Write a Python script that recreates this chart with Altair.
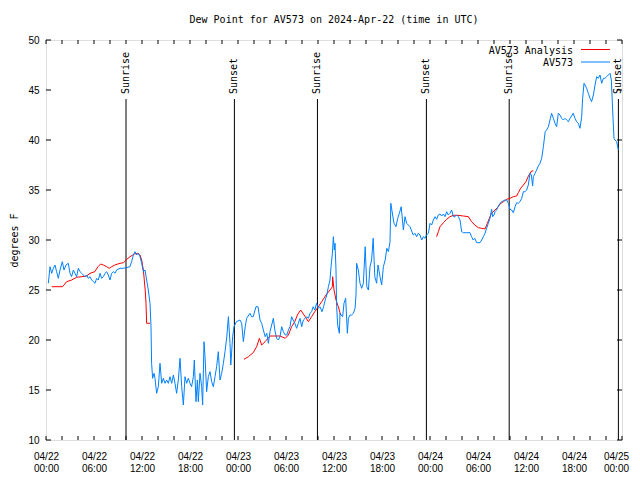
import altair as alt
import pandas as pd

TITLE = "Dew Point for AV573 on 2024-Apr-22 (time in UTC)"
Y_TITLE = "degrees F"
FONT = "DejaVu Sans Mono"
RED = "#ff0000"
BLUE = "#0080ff"

# x values are hours since 2024-04-22 00:00 UTC
x_tick_dates = ["04/22", "04/22", "04/22", "04/22", "04/23", "04/23", "04/23",
                "04/23", "04/24", "04/24", "04/24", "04/24", "04/25"]
x_tick_times = ["00:00", "06:00", "12:00", "18:00", "00:00", "06:00", "12:00",
                "18:00", "00:00", "06:00", "12:00", "18:00", "00:00"]
x_major = [0, 6, 12, 18, 24, 30, 36, 42, 48, 54, 60, 66, 72]
x_minor = [0, 2, 4, 6, 8, 10, 12, 14, 16, 18, 20, 22, 24, 26, 28, 30, 32, 34, 36,
           38, 40, 42, 44, 46, 48, 50, 52, 54, 56, 58, 60, 62, 64, 66, 68, 70, 72]
y_ticks = [10, 15, 20, 25, 30, 35, 40, 45, 50]

sun_hours = [10.0, 23.55, 33.93, 47.55, 57.9, 71.55]
sun_labels = ["Sunrise", "Sunset", "Sunrise", "Sunset", "Sunrise", "Sunset"]

legend_names = ["AV573 Analysis", "AV573"]
legend_colors = [RED, BLUE]

blue_h = [0.29, 0.5, 0.71, 0.92, 1.125, 1.33, 1.54, 1.75, 2.04, 2.25, 2.5, 2.79, 3.0, 3.2,
          3.42, 3.625, 3.83, 4.04, 4.25, 4.46, 4.67, 4.875, 5.08, 5.29, 5.5, 5.71, 5.92,
          6.125, 6.33, 6.54, 6.75, 6.96, 7.17, 7.375, 7.58, 7.79, 8.0, 8.2, 8.42, 8.625,
          8.83, 9.25, 9.67, 10.0, 10.5, 10.7, 10.92, 11.125, 11.33, 11.54, 11.75, 11.96,
          12.17, 12.375, 12.58, 12.79, 13.0, 13.125, 13.2, 13.33, 13.5, 13.625, 13.83,
          14.04, 14.25, 14.46, 14.67, 14.875, 15.08, 15.29, 15.5, 15.71, 15.92, 16.125,
          16.33, 16.54, 16.75, 16.96, 17.17, 17.375, 17.58, 17.79, 18.0, 18.2, 18.42,
          18.54, 18.75, 18.92, 19.04, 19.25, 19.46, 19.58, 19.75, 19.875, 20.08, 20.29,
          20.5, 20.71, 20.92, 21.125, 21.33, 21.54, 21.75, 21.96, 22.17, 22.375,
          22.6, 22.8, 23.0, 23.1, 23.33, 23.5, 23.8, 24.25, 24.46, 24.67, 24.9, 25.08,
          25.5, 25.7, 25.9, 26.25, 26.5, 26.75, 26.96, 27.17, 27.4, 27.6, 27.8, 28.0,
          28.42, 28.6, 28.83, 29.04, 29.25, 29.46, 29.67, 29.9, 30.1, 30.3, 30.5, 30.7,
          30.9, 31.1, 31.33, 31.54, 31.75, 31.96, 32.17, 32.4, 32.6, 32.8, 33.0, 33.2,
          33.4, 33.6, 33.83, 34.04, 34.25, 34.5, 34.7, 34.9, 35.1, 35.3, 35.5, 35.63,
          35.8, 35.92, 36.04, 36.125, 36.25, 36.33, 36.46, 36.67, 36.75, 36.9, 37.08,
          37.25, 37.46, 37.67, 37.8, 38.0, 38.2, 38.42, 38.63, 38.75, 38.83, 39.04,
          39.25, 39.46, 39.67, 39.9, 40.1, 40.3, 40.5, 40.7, 40.9, 41.1, 41.33, 41.5,
          41.75, 41.96, 42.17, 42.4, 42.6, 42.8, 43.0, 43.1, 43.33, 43.5, 43.75, 43.96,
          44.17, 44.4,
          44.67, 44.875, 45.08, 45.29, 45.5, 45.9, 46.125, 46.33, 46.54, 46.75, 46.96,
          47.17, 47.38, 47.54, 47.8, 48.0, 48.2, 48.42, 48.63, 48.83, 49.04, 49.25,
          49.46, 49.67, 49.875, 50.08, 50.29, 50.5, 50.7, 50.92, 51.125, 51.33, 51.54,
          51.75, 51.96, 52.17, 52.6, 53.0, 53.2, 53.4, 53.6, 53.83, 54.25, 54.46, 54.67,
          54.875, 55.08, 55.29, 55.5, 55.7, 55.83, 56.0, 56.125, 56.33, 56.54, 56.75,
          56.96, 57.17, 57.38, 57.58, 57.79, 58.0, 58.2, 58.42, 58.63, 58.83, 59.04,
          59.25, 59.46, 59.67, 59.875, 60.08, 60.29, 60.5, 60.67, 60.83, 60.92, 61.13,
          61.33, 61.54, 61.75, 61.96, 62.17, 62.4, 62.58, 62.8, 63.0, 63.2, 63.42, 63.63,
          63.83, 64.04, 64.25, 64.46, 64.67, 64.875, 65.08, 65.3, 65.5, 65.7, 65.9,
          66.125, 66.33, 66.54, 66.75, 66.96, 67.08, 67.25, 67.375, 67.58, 67.79, 68.0,
          68.2, 68.42, 68.63, 68.83, 69.04, 69.25, 69.46, 69.67, 69.875, 70.08, 70.29,
          70.5, 70.67, 70.83, 71.0, 71.125, 71.33, 71.54]
blue_v = [25.67, 27.33, 26.67, 27.17, 27.5, 26.83, 26.17, 27.0, 27.83, 27.0, 27.5, 27.67,
          26.67, 26.33, 27.0, 26.67, 26.33, 27.17, 26.83, 26.67, 26.5, 26.33, 26.5, 26.17,
          26.33, 26.0, 25.83, 25.67, 26.17, 26.0, 26.67, 26.17, 26.33, 26.67, 26.83, 26.5,
          26.0, 26.67, 26.83, 26.67, 27.0, 27.17, 27.17, 27.23, 27.33, 27.83, 28.5, 28.83,
          28.5, 28.67, 28.33, 27.67, 26.83, 27.0, 26.0, 25.0, 23.67, 21.33, 17.67, 16.17,
          16.67, 16.17, 14.67, 15.33, 17.67, 15.67, 16.17, 15.67, 16.0, 15.67, 16.33,
          15.67, 16.5, 15.67, 14.67, 16.0, 18.17, 15.33, 13.5, 16.33, 15.67, 16.17, 15.67,
          15.33, 16.33, 18.0, 13.83, 16.0, 13.83, 16.67, 15.33, 13.5, 19.83, 18.33, 14.83,
          16.33, 16.83, 15.83, 15.33, 16.33, 17.33, 18.83, 16.0, 16.67, 17.67, 18.83,
          20.33, 22.33, 19.67, 17.5, 20.33, 21.33, 21.83, 22.0, 21.67, 19.83, 21.33, 22.17,
          22.67, 22.33, 22.33, 23.33, 23.33, 22.0, 21.67, 21.0, 20.33, 20.67, 19.67, 20.83,
          22.17, 21.0, 20.17, 20.0, 20.33, 21.33, 20.83, 20.5, 20.5, 21.0, 21.33, 22.33,
          22.0, 21.67, 21.17, 21.67, 22.17, 21.33, 22.0, 22.17, 22.33, 22.17, 22.67, 22.83,
          23.33, 23.0, 23.67, 23.17, 23.33, 22.83, 23.33, 24.0, 24.5, 25.33, 26.0, 27.33,
          28.67, 30.33, 29.0, 29.67, 27.0, 23.33, 21.5, 20.67, 22.67, 22.5, 22.33, 23.67,
          24.17, 20.67, 22.17, 22.5, 22.5, 22.67, 23.17, 24.5, 27.67, 27.0, 25.67, 25.17,
          25.67, 29.33, 25.33, 25.0, 27.33, 28.0, 30.17, 26.33, 25.67, 27.5, 26.33, 25.5,
          27.33, 28.0, 29.17, 28.83, 29.83, 33.67, 32.5, 31.67, 31.33, 32.17, 32.67, 33.33,
          31.0, 32.33, 31.67, 31.5, 31.33, 30.5, 30.67, 30.33, 30.67, 30.5, 30.0, 30.33,
          30.17, 30.5, 30.67, 31.67, 31.5, 32.0, 32.33, 32.07, 32.5, 32.6, 32.4, 32.6,
          32.33, 32.83, 32.5, 32.67, 33.0, 32.33, 32.33, 32.5, 32.33, 32.0, 30.83, 30.73,
          30.73, 30.73, 30.33, 30.0, 30.17, 29.73, 29.73, 30.0, 30.33, 30.67, 31.17, 31.67,
          32.17, 33.07, 32.33, 32.5, 32.83, 33.0, 33.4, 33.67, 33.83, 33.93, 34.0, 34.0,
          33.67, 33.07, 33.0, 32.73, 33.33, 33.73, 33.67, 33.83, 34.17, 34.83, 34.83, 35.0,
          35.5, 36.67, 36.5, 35.4, 36.33, 36.67, 37.0, 37.4, 37.67, 38.17, 39.33, 40.83,
          41.0, 41.33, 42.0, 42.67, 42.17, 41.67, 41.33, 42.67, 42.5, 42.17, 42.0, 42.17,
          42.0, 41.83, 42.17, 42.4, 42.67, 42.17, 41.83, 41.67, 41.17, 42.33, 44.17, 45.67,
          45.5, 45.17, 44.67, 44.17, 43.83, 44.5, 45.5, 46.33, 46.17, 46.5, 45.67, 46.17,
          46.17, 46.33, 46.5, 46.67, 46.0, 43.0, 40.17, 40.0, 39.83, 39.0]

red_seg1_h = [0.71, 2.08, 2.58, 3.2, 3.83, 4.46, 5.08, 5.5, 6.1, 6.5, 6.83, 7.17, 7.58, 7.9,
              8.2, 8.6, 9.25, 9.7, 10.0, 10.5, 11.04, 11.46, 11.75, 11.96, 12.17, 12.4,
              12.5, 12.58, 13.0]
red_seg1_v = [25.33, 25.33, 25.83, 26.0, 26.27, 26.33, 26.4, 26.67, 26.83, 27.33, 27.6,
              27.5, 27.33, 27.17, 27.33, 27.5, 27.67, 27.73, 28.0, 28.33, 28.6, 28.67,
              28.5, 28.0, 27.0, 25.0, 23.67, 21.67, 21.67]
red_seg2_h = [24.75, 25.3, 25.9, 26.33, 26.67, 26.96, 27.38, 28.0, 29.25, 29.9, 30.3,
              30.7, 31.1, 31.42, 31.83, 32.4, 32.8, 33.2, 33.6, 34.04, 34.46, 35.0, 35.5,
              35.8, 35.83, 36.0, 36.25, 36.54, 36.83]
red_seg2_v = [18.07, 18.33, 18.73, 19.33, 20.17, 19.5, 19.83, 20.4, 20.4, 20.17, 20.5,
              21.33, 21.83, 22.5, 23.0, 22.33, 21.83, 22.33, 22.83, 23.33, 23.83, 24.5,
              25.0, 25.33, 26.33, 25.0, 24.0, 23.33, 22.5]
red_seg3_h = [48.83, 49.04, 49.25, 49.67, 50.08, 50.5, 50.92, 51.5, 52.17, 52.8, 53.2,
              53.6, 54.04, 54.46, 54.875, 55.17, 55.42, 55.7, 56.125, 56.54, 56.75,
              57.17, 57.58, 58.0, 58.42, 58.83, 59.04, 59.33, 59.67, 60.0, 60.3, 60.7,
              60.92]
red_seg3_v = [30.33, 30.83, 31.33, 31.73, 32.07, 32.33, 32.47, 32.47, 32.4, 32.33, 31.83,
              31.5, 31.23, 31.17, 31.1, 31.67, 32.17, 32.67, 33.0, 33.33, 33.6, 33.83,
              34.07, 34.17, 34.33, 34.4, 34.73, 35.17, 35.5, 35.83, 36.4, 36.9, 36.9]

# ---------------- data frames ----------------
blue_df = pd.DataFrame({"h": blue_h, "v": blue_v})
red_df = pd.concat([
    pd.DataFrame({"h": red_seg1_h, "v": red_seg1_v, "seg": 1}),
    pd.DataFrame({"h": red_seg2_h, "v": red_seg2_v, "seg": 2}),
    pd.DataFrame({"h": red_seg3_h, "v": red_seg3_v, "seg": 3}),
])
sun_df = pd.DataFrame({"h": sun_hours, "label": sun_labels})
xmin_df = pd.DataFrame({"h": x_minor})
ytk_df = pd.DataFrame({"v": y_ticks})

label_array = "[" + ",".join(
    "['%s','%s']" % (d, t) for d, t in zip(x_tick_dates, x_tick_times)) + "]"

xs = alt.Scale(domain=[0, 72], nice=False, zero=False)
ys = alt.Scale(domain=[10, 50], nice=False, zero=False)

xaxis = alt.Axis(values=x_major, labelExpr=label_array + "[round(datum.value/6)]",
                 title=None, labelPadding=11, labelLineHeight=12, labelFlush=False,
                 labelOverlap=False, labelAlign="center", labelBaseline="top",
                 labelOffset={"condition": {"test": "datum.value >= 72", "value": -6},
                              "value": 0},
                 grid=False, ticks=False, tickSize=0, domain=False)
yaxis = alt.Axis(values=y_ticks, title=Y_TITLE, labelPadding=7, labelFlush=False,
                 labelOverlap=False, titleX=-32, titleY=200, titleAngle=270,
                 titleAlign="center", titleBaseline="middle", titleFontWeight="normal",
                 titleFont=FONT, titleFontSize=10, titleColor="black",
                 grid=False, ticks=False, tickSize=0, domain=False)


def X(f):
    return alt.X(f, type="quantitative", scale=xs, axis=xaxis)


def Y(f):
    return alt.Y(f, type="quantitative", scale=ys, axis=yaxis)


sun_rules = alt.Chart(sun_df).transform_calculate(y0="10", y1="44.1").mark_rule(
    color="black", strokeWidth=1).encode(x=X("h"), y=Y("y0"), y2="y1:Q")
sun_text = alt.Chart(sun_df).transform_calculate(ty="44.6").mark_text(
    angle=270, align="left", baseline="middle", font=FONT, fontSize=10,
    color="black").encode(x=X("h"), y=Y("ty"), text="label:N")

tick_bot = alt.Chart(xmin_df).transform_calculate(a="10", b="10.4").mark_rule(
    color="black").encode(x=X("h"), y=Y("a"), y2="b:Q")
tick_top = alt.Chart(xmin_df).transform_calculate(a="49.6", b="50").mark_rule(
    color="black").encode(x=X("h"), y=Y("a"), y2="b:Q")
tick_left = alt.Chart(ytk_df).transform_calculate(a="0", b="0.625").mark_rule(
    color="black").encode(y=Y("v"), x=X("a"), x2="b:Q")
tick_right = alt.Chart(ytk_df).transform_calculate(a="71.375", b="72").mark_rule(
    color="black").encode(y=Y("v"), x=X("a"), x2="b:Q")

red_line = alt.Chart(red_df).mark_line(color=RED, strokeWidth=1, interpolate="linear").encode(
    x=X("h"), y=Y("v"), detail="seg:N", order="h:Q")
blue_line = alt.Chart(blue_df).mark_line(color=BLUE, strokeWidth=1, interpolate="linear").encode(
    x=X("h"), y=Y("v"), order="h:Q")

title_text = alt.Chart(pd.DataFrame({"t": [TITLE]})).mark_text(
    align="center", baseline="middle", font=FONT, fontSize=10, color="black").encode(
    text="t:N", x=alt.value(288), y=alt.value(-20))

legend_layers = []
legend_y = [10.5, 23.0]
for name, col, ly in zip(legend_names, legend_colors, legend_y):
    ldf = pd.DataFrame({"name": [name]})
    legend_layers.append(alt.Chart(ldf).mark_text(
        align="right", baseline="middle", font=FONT, fontSize=10, color="black").encode(
        text="name:N", x=alt.value(527), y=alt.value(ly)))
    legend_layers.append(alt.Chart(ldf).mark_rule(color=col, strokeWidth=1).encode(
        x=alt.value(535), x2=alt.value(564), y=alt.value(ly - 1)))

chart = alt.layer(
    sun_rules, sun_text, tick_bot, tick_top, tick_left, tick_right,
    red_line, blue_line, title_text, *legend_layers
).properties(
    width=576, height=400,
    autosize=alt.AutoSizeParams(type="none"),
    padding={"left": 38, "top": 32, "right": 10, "bottom": 38},
).configure_view(
    stroke="black", strokeWidth=1
).configure_axis(
    labelFont=FONT, labelFontSize=10, labelColor="black",
    titleFont=FONT, titleFontSize=10, titleFontWeight="normal", titleColor="black",
    grid=False, domain=False, ticks=False, tickSize=0
).configure(background="white")

chart.save("out.html", embed_options={"renderer": "svg", "actions": False})
